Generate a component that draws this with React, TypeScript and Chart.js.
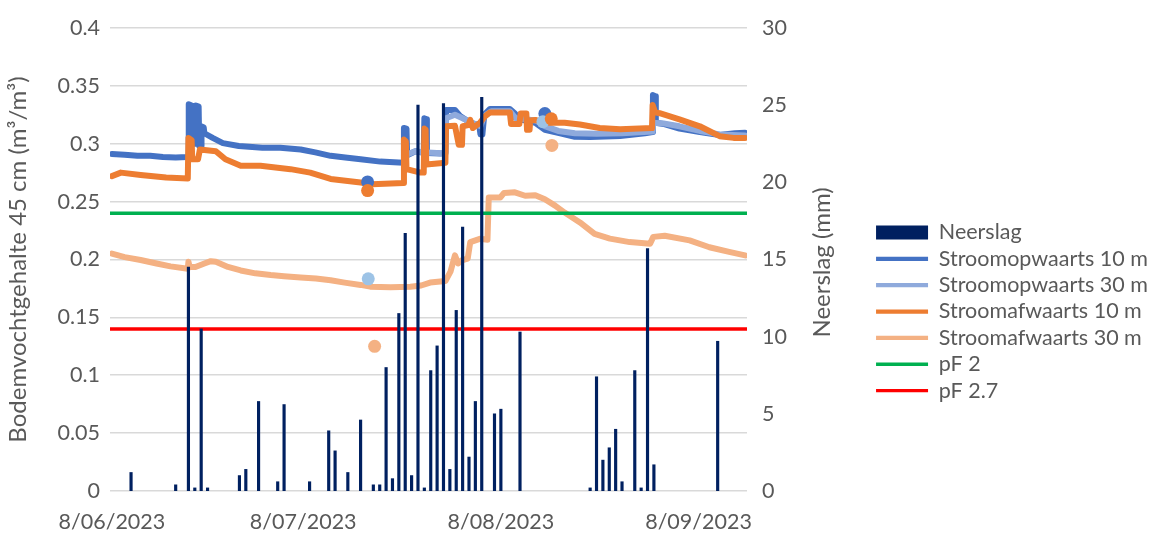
import { useEffect, useRef } from 'react';
import { Chart, registerables } from 'chart.js';

Chart.register(...registerables);

// ---------- DATA ----------
const START_DATE = '2023-06-08';

const xTickDays = [0, 30, 61, 92];
const xTickLabels = ['8/06/2023', '8/07/2023', '8/08/2023', '8/09/2023'];
const leftTickLabels = ['0', '0.05', '0.1', '0.15', '0.2', '0.25', '0.3', '0.35', '0.4'];
const rightTickLabels = ['0', '5', '10', '15', '20', '25', '30'];

const rainDates = [
  '2023-06-11', '2023-06-18', '2023-06-20', '2023-06-21', '2023-06-22', '2023-06-23',
  '2023-06-28', '2023-06-29', '2023-07-01', '2023-07-04', '2023-07-05', '2023-07-09',
  '2023-07-12', '2023-07-13', '2023-07-15', '2023-07-17', '2023-07-19', '2023-07-20',
  '2023-07-21', '2023-07-22', '2023-07-23', '2023-07-24', '2023-07-25', '2023-07-26',
  '2023-07-27', '2023-07-28', '2023-07-29', '2023-07-30', '2023-07-31', '2023-08-01',
  '2023-08-02', '2023-08-03', '2023-08-04', '2023-08-05', '2023-08-07', '2023-08-08',
  '2023-08-11', '2023-08-22', '2023-08-23', '2023-08-24', '2023-08-25', '2023-08-26',
  '2023-08-27', '2023-08-29', '2023-08-30', '2023-08-31', '2023-09-01', '2023-09-11',
];
const rainMm = [
  1.2, 0.4, 14.5, 0.2, 10.5, 0.2,
  1.0, 1.4, 5.8, 0.6, 5.6, 0.6,
  3.9, 2.6, 1.2, 4.6, 0.4, 0.4,
  8.0, 0.8, 11.5, 16.7, 1.0, 25.0,
  0.2, 7.8, 9.4, 25.1, 1.4, 11.7,
  17.1, 2.2, 5.8, 25.5, 5.0, 5.3,
  10.3, 0.2, 7.4, 2.0, 2.8, 4.0,
  0.6, 7.8, 0.2, 15.7, 1.7, 9.7,
];

// [day since 8/06/2023, m³/m³]
const stroomop10: [number, number][] = [
  [0, 0.291], [2, 0.2905], [4, 0.2895], [6, 0.2895], [8, 0.2885], [10, 0.288], [11.8, 0.2885],
  [12.0, 0.289], [12.05, 0.334], [12.5, 0.333], [12.6, 0.3], [13.1, 0.3], [13.15, 0.333],
  [13.6, 0.332], [13.7, 0.298], [14.0, 0.298], [14.05, 0.315], [14.4, 0.314], [14.5, 0.309],
  [15.8, 0.305], [17.4, 0.3005], [19.9, 0.298], [23.6, 0.2965], [26.4, 0.2965], [29.6, 0.295],
  [31.9, 0.2925], [34.3, 0.2895], [36.6, 0.288], [39.0, 0.2865], [42.1, 0.2845], [45.7, 0.2835],
  [45.8, 0.3135], [46.2, 0.313], [46.3, 0.29], [47.6, 0.2935], [48.9, 0.292], [49.0, 0.322],
  [49.3, 0.321], [49.4, 0.292], [51.5, 0.2915], [52.3, 0.292], [52.4, 0.329], [53.8, 0.329],
  [54.6, 0.324], [56.2, 0.318], [57.6, 0.316], [57.8, 0.308], [58.1, 0.308], [58.4, 0.325],
  [59.3, 0.33], [62.4, 0.33], [63.2, 0.326], [64.0, 0.321], [66.4, 0.318], [67.9, 0.312],
  [70.3, 0.309], [72.6, 0.306], [75.0, 0.3058], [79.7, 0.3066], [83.6, 0.309], [84.8, 0.31],
  [84.85, 0.342], [85.2, 0.341], [85.3, 0.318], [86.5, 0.317], [89.0, 0.313], [92.2, 0.31],
  [95.3, 0.3075], [97.7, 0.309], [99.3, 0.3095],
];
const stroomop30: [number, number][] = [
  [46.4, 0.291], [47.6, 0.2935], [48.9, 0.2925], [52.3, 0.2915], [52.4, 0.322], [53.8, 0.325],
  [55.0, 0.322], [56.5, 0.318], [57.8, 0.315], [58.4, 0.324], [59.5, 0.328], [62.4, 0.328],
  [63.3, 0.322], [66.5, 0.32], [68.0, 0.315], [70.0, 0.311], [72.6, 0.309], [76.0, 0.3085],
  [80.0, 0.309], [84.8, 0.3105], [84.9, 0.318], [86.5, 0.3175], [89.0, 0.315], [92.2, 0.311],
  [95.3, 0.308], [99.3, 0.307],
];
const stroomaf10: [number, number][] = [
  [0, 0.272], [1.4, 0.275], [4.5, 0.273], [8.5, 0.2707], [11.9, 0.27], [12.0, 0.305],
  [12.5, 0.303], [12.6, 0.2865], [13.5, 0.2865], [13.8, 0.295], [16.3, 0.2935], [17.8, 0.2865],
  [20.2, 0.281], [23.3, 0.281], [28.0, 0.278], [31.1, 0.275], [34.3, 0.2695], [39.0, 0.2665],
  [40.8, 0.265], [45.7, 0.266], [45.8, 0.3035], [46.1, 0.302], [46.2, 0.278], [48.4, 0.275],
  [48.9, 0.275], [49.0, 0.313], [49.2, 0.312], [49.3, 0.282], [52.3, 0.2835], [52.4, 0.315],
  [53.8, 0.3155], [54.4, 0.299], [54.9, 0.299], [55.0, 0.315], [55.9, 0.316], [56.2, 0.3205],
  [56.6, 0.3135], [57.7, 0.318], [58.5, 0.3235], [59.3, 0.327], [62.4, 0.327], [62.6, 0.317],
  [63.9, 0.317], [64.1, 0.326], [65.0, 0.326], [65.1, 0.312], [65.5, 0.312], [65.6, 0.32],
  [66.4, 0.3205], [67.9, 0.318], [71.0, 0.318], [73.4, 0.3165], [76.5, 0.3135], [79.7, 0.3125],
  [84.7, 0.3135], [84.8, 0.3335], [85.2, 0.327], [85.9, 0.3263], [89.0, 0.321], [92.2, 0.315],
  [95.3, 0.3065], [97.5, 0.305], [99.3, 0.305],
];
const stroomaf30: [number, number][] = [
  [0, 0.205], [2, 0.202], [4.5, 0.1995], [7, 0.1965], [9.2, 0.194], [11.9, 0.192], [12.0, 0.198],
  [12.2, 0.1935], [13.1, 0.1935], [14.5, 0.1965], [15.5, 0.1985], [16.3, 0.198], [18.2, 0.1935],
  [20.2, 0.1905], [22.5, 0.188], [24.9, 0.1865], [27, 0.1855], [29.6, 0.1845], [32, 0.1835],
  [34.3, 0.182], [36.5, 0.18], [39.0, 0.178], [40.5, 0.1765], [43.7, 0.176], [46.8, 0.1765],
  [48.5, 0.1775], [49.9, 0.18], [52.3, 0.1813], [53.1, 0.1895], [53.8, 0.2036], [54.3, 0.1965],
  [54.9, 0.1993], [55.8, 0.2007], [56.2, 0.215], [57.7, 0.2178], [58.9, 0.217], [59.1, 0.2535],
  [60.9, 0.2535], [61.5, 0.2575], [63.2, 0.258], [64.8, 0.255], [66.4, 0.2555], [67.9, 0.252],
  [69.5, 0.2465], [71.0, 0.2405], [73.4, 0.232], [75.7, 0.222], [78.1, 0.218], [81.2, 0.215],
  [84.4, 0.2135], [84.9, 0.2195], [86.7, 0.2205], [90.6, 0.2165], [93.7, 0.2105], [96.8, 0.2065],
  [99.3, 0.2035],
];

// isolated measurements
const stroomop10Dots: [number, number][] = [[40.1, 0.267], [67.9, 0.326]];
const stroomop30Dots: [number, number][] = [[40.2, 0.1833], [67.6, 0.319]];
const stroomaf10Dots: [number, number][] = [[40.1, 0.2595], [68.9, 0.3215]];
const stroomaf30Dots: [number, number][] = [[41.2, 0.125], [69.0, 0.2985]];

const pF2Value = 0.24;
const pF27Value = 0.14;
const X_MIN = -0.3;
const X_MAX = 99.6;

// ---------- HELPERS ----------
const FONT = 'Lato';
const FONT_SIZE = 21.5;
const TITLE_SIZE = 24;
const TEXT = '#595959';

const dayOf = (d: string) => (Date.parse(d) - Date.parse(START_DATE)) / 86400000;
const pts = (arr: [number, number][]) => arr.map(([x, y]) => ({ x, y }));

const lineDs = (label: string, data: [number, number][], color: string, width: number, order: number) => ({
  type: 'line' as const,
  label,
  data: pts(data),
  borderColor: color,
  backgroundColor: color,
  borderWidth: width,
  borderCapStyle: 'round' as const,
  borderJoinStyle: 'round' as const,
  pointRadius: 0,
  pointHoverRadius: 0,
  pointHitRadius: 0,
  pointStyle: 'line' as const,
  tension: 0,
  fill: false,
  yAxisID: 'y',
  order,
});

const dotDs = (label: string, data: [number, number][], color: string, order: number) => ({
  type: 'line' as const,
  label,
  data: pts(data),
  showLine: false,
  borderColor: color,
  backgroundColor: color,
  pointBackgroundColor: color,
  pointBorderWidth: 0,
  pointRadius: 6.5,
  pointHoverRadius: 6.5,
  yAxisID: 'y',
  order,
});

const rightTitlePlugin = {
  id: 'rightTitle',
  afterLayout(chart: any) {
    // let the legend text run to the canvas edge instead of being clipped
    const lg = chart.legend;
    if (lg) {
      lg.right = chart.width;
      lg.width = lg.right - lg.left;
    }
  },
  afterDraw(chart: any) {
    const { ctx, chartArea } = chart;
    ctx.save();
    ctx.font = `${TITLE_SIZE}px ${FONT}`;
    ctx.fillStyle = TEXT;
    ctx.translate(chartArea.right + 75, (chartArea.top + chartArea.bottom) / 2 + 3);
    ctx.rotate(-Math.PI / 2);
    ctx.textAlign = 'center';
    ctx.textBaseline = 'middle';
    ctx.fillText('Neerslag (mm)', 0, 0);
    ctx.restore();
  },
};

function buildConfig(): any {
  const font = { family: FONT, size: FONT_SIZE };
  return {
    type: 'line',
    data: {
      datasets: [
        {
          type: 'bar',
          label: 'Neerslag',
          data: rainDates.map((d, i) => ({ x: dayOf(d), y: rainMm[i] })),
          backgroundColor: '#002060',
          borderWidth: 0,
          barThickness: 2.5,
          pointStyle: 'rect',
          yAxisID: 'y1',
          order: 0,
        },
        lineDs('Stroomopwaarts 10 m', stroomop10, '#4472C4', 6, 10),
        lineDs('Stroomopwaarts 30 m', stroomop30, '#8FAADC', 6, 9),
        lineDs('Stroomafwaarts 10 m', stroomaf10, '#ED7D31', 6, 8),
        lineDs('Stroomafwaarts 30 m', stroomaf30, '#F4B183', 6, 7),
        lineDs('pF 2', [[X_MIN, pF2Value], [X_MAX, pF2Value]], '#00B050', 3.5, 6),
        lineDs('pF 2.7', [[X_MIN, pF27Value], [X_MAX, pF27Value]], '#FF0000', 3.5, 5),
        dotDs('op10 dots', stroomop10Dots, '#4472C4', 4),
        dotDs('op30 dots', stroomop30Dots, '#9DC3E6', 3),
        dotDs('af10 dots', stroomaf10Dots, '#ED7D31', 2),
        dotDs('af30 dots', stroomaf30Dots, '#F4B183', 1),
      ],
    },
    options: {
      responsive: false,
      animation: false,
      events: [],
      layout: { padding: { left: 0, top: 24, right: 87.8, bottom: 0 } },
      scales: {
        x: {
          type: 'linear',
          min: X_MIN,
          max: X_MAX,
          offset: false,
          grid: { display: false, drawTicks: false, offset: false },
          border: { display: false },
          ticks: {
            padding: 18,
            maxRotation: 0,
            autoSkip: false,
            font,
            color: TEXT,
            callback: (v: number) => {
              const i = xTickDays.indexOf(v);
              return i >= 0 ? xTickLabels[i] : '';
            },
          },
          afterBuildTicks: (s: any) => {
            s.ticks = xTickDays.map((v) => ({ value: v }));
          },
          afterFit: (s: any) => {
            s.height = 45;
          },
        },
        y: {
          position: 'left',
          min: 0,
          max: 0.4,
          grid: { color: '#D9D9D9', lineWidth: 1.5, drawTicks: false },
          border: { display: false },
          ticks: {
            stepSize: 0.05,
            padding: 10,
            font,
            color: TEXT,
            callback: (_v: number, i: number) => leftTickLabels[i],
          },
          title: {
            display: true,
            text: 'Bodemvochtgehalte 45 cm (m³/m³)',
            font: { family: FONT, size: TITLE_SIZE },
            color: TEXT,
            padding: { top: 3.6, bottom: 0 },
          },
          afterFit: (s: any) => {
            s.width = 110;
          },
        },
        y1: {
          position: 'right',
          min: 0,
          max: 30,
          grid: { display: false, drawTicks: false },
          border: { display: false },
          ticks: {
            stepSize: 5,
            padding: 15,
            font,
            color: TEXT,
            callback: (_v: number, i: number) => rightTickLabels[i],
          },
          afterFit: (s: any) => {
            s.width = 124.2;
          },
        },
      },
      plugins: {
        tooltip: { enabled: false },
        legend: {
          position: 'right',
          align: 'start',
          maxWidth: 200,
          title: {
            display: true,
            text: ' ',
            font: { size: 1 },
            padding: { top: 191.7, bottom: 0, left: 0, right: 0 },
          },
          labels: {
            usePointStyle: true,
            pointStyleWidth: 52,
            boxHeight: 14,
            padding: 4.85,
            font,
            color: TEXT,
            filter: (item: any) => item.datasetIndex < 7,
            sort: (a: any, b: any) => a.datasetIndex - b.datasetIndex,
            generateLabels: (chart: any) =>
              Chart.defaults.plugins.legend.labels.generateLabels(chart).map((it: any) => ({
                ...it,
                lineWidth: it.pointStyle === 'rect' ? 0 : it.lineWidth >= 5 ? 4.2 : 3.3,
              })),
          },
        },
      },
    },
    plugins: [rightTitlePlugin],
  };
}

export default function App() {
  const ref = useRef<HTMLCanvasElement>(null);
  useEffect(() => {
    let chart: Chart | null = null;
    let cancelled = false;
    const build = () => {
      if (cancelled || !ref.current) return;
      chart = new Chart(ref.current, buildConfig());
    };
    const fonts: any = (document as any).fonts;
    if (fonts && fonts.load) {
      fonts.load(`${FONT_SIZE}px ${FONT}`).then(build, build);
    } else {
      build();
    }
    return () => {
      cancelled = true;
      if (chart) chart.destroy();
    };
  }, []);
  return (
    <div style={{ position: 'absolute', left: 0, top: 0, width: 1159, height: 536, background: '#fff' }}>
      <canvas ref={ref} width={1159} height={536} style={{ display: 'block', width: 1159, height: 536 }} />
    </div>
  );
}
